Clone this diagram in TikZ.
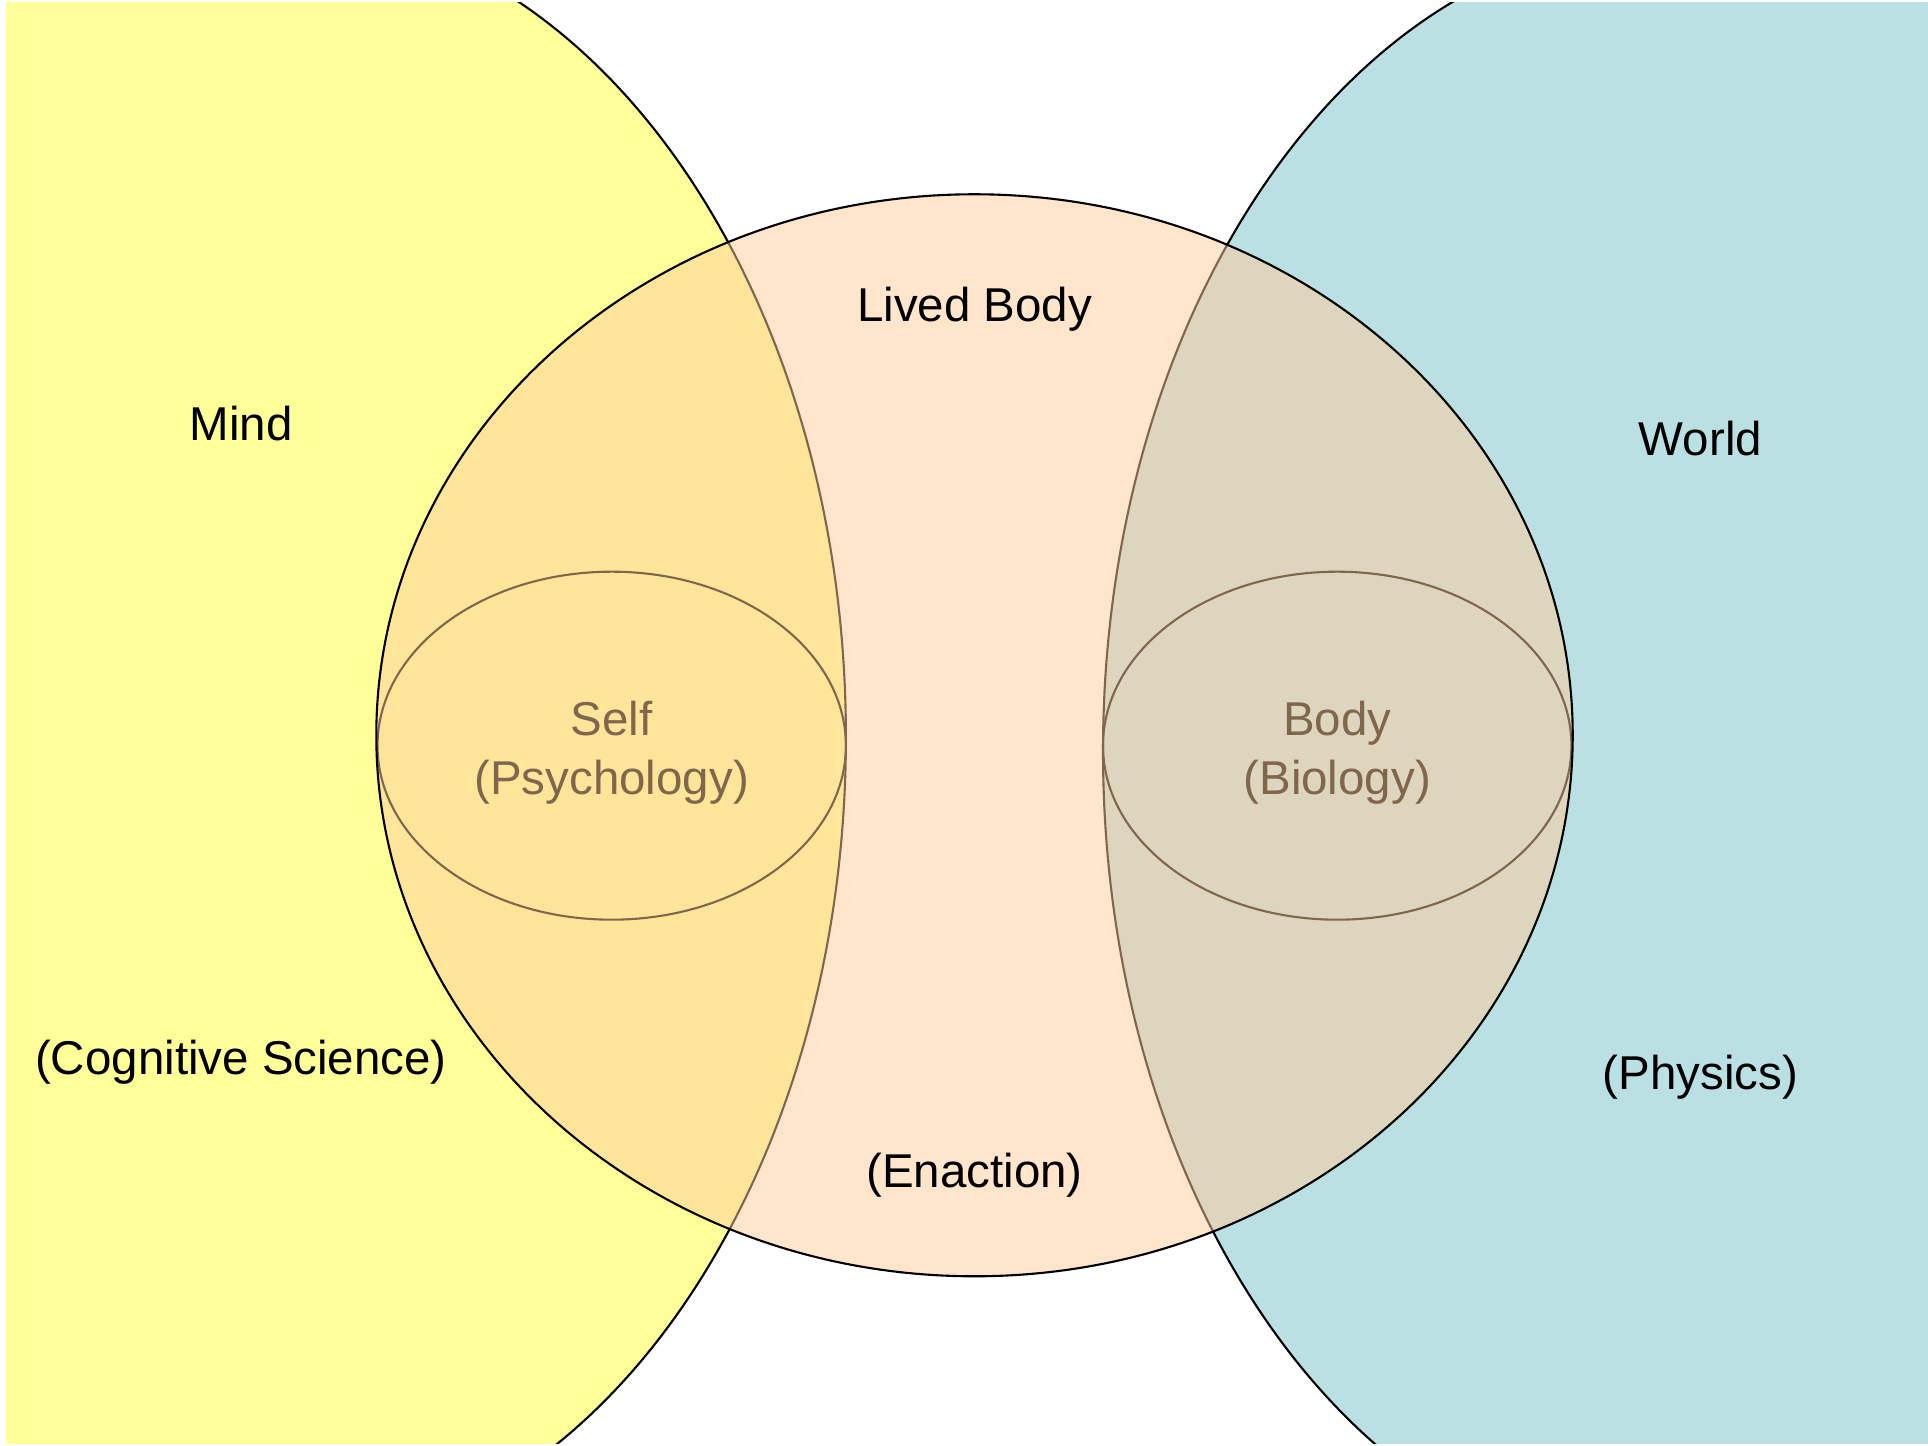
\documentclass[tikz,border=0pt]{standalone}
\usepackage{fontspec}
\setmainfont{Liberation Sans}
\begin{document}
\begin{tikzpicture}[x=0.01cm,y=0.01cm,
  outline/.style={draw=black,line width=0.6pt},
  lbl/.style={anchor=base,inner sep=0pt,font=\fontsize{13.5}{16}\selectfont}]
\definecolor{mindfill}{HTML}{FFFF99}
\definecolor{worldfill}{HTML}{BBE0E3}
\definecolor{bodyfill}{HTML}{FFCC99}
\useasboundingbox (0,0) rectangle (1928,1446);
\begin{scope}
  \clip (6,2) rectangle (1928,1443);
  % Mind: large ellipse on the left, running off the page
  \fill[mindfill] (277.9,708.9) ellipse[x radius=568,y radius=811.5];
  \fill[mindfill] (0,0) rectangle (277.9,1446);
  \draw[outline] (277.9,-102.6) arc[start angle=-90,end angle=90,x radius=568,y radius=811.5];
  % World: large ellipse on the right, running off the page
  \fill[worldfill] (1671,694.7) ellipse[x radius=568,y radius=811.5];
  \fill[worldfill] (1671,0) rectangle (1928,1446);
  \draw[outline] (1671,1506.2) arc[start angle=90,end angle=270,x radius=568,y radius=811.5];
\end{scope}
% Self and Body, seen through the lived body
\draw[outline] (611.7,700.3) ellipse[x radius=234.2,y radius=174];
\draw[outline] (1337.2,700.3) ellipse[x radius=234.2,y radius=174];
\node[lbl] (self) at (611.7,710.7) {Self};
\node[lbl] (psych) at (611.7,651.7) {(Psychology)};
\node[lbl] (body) at (1337.2,710) {Body};
\node[lbl] (biol) at (1337.2,651.7) {(Biology)};
% Lived body: translucent central ellipse
\path[fill=bodyfill,fill opacity=0.5,outline] (974.5,710.7) ellipse[x radius=598.2,y radius=541];
% Labels
\node[lbl] (mind) at (241,1005) {Mind};
\node[lbl] (cogsci) at (241,371.4) {(Cognitive Science)};
\node[lbl] (lived) at (974.5,1124) {Lived Body};
\node[lbl] (enaction) at (974.5,258.2) {(Enaction)};
\node[lbl] (world) at (1700.5,990) {World};
\node[lbl] (physics) at (1700.5,356.6) {(Physics)};
\end{tikzpicture}
\end{document}
